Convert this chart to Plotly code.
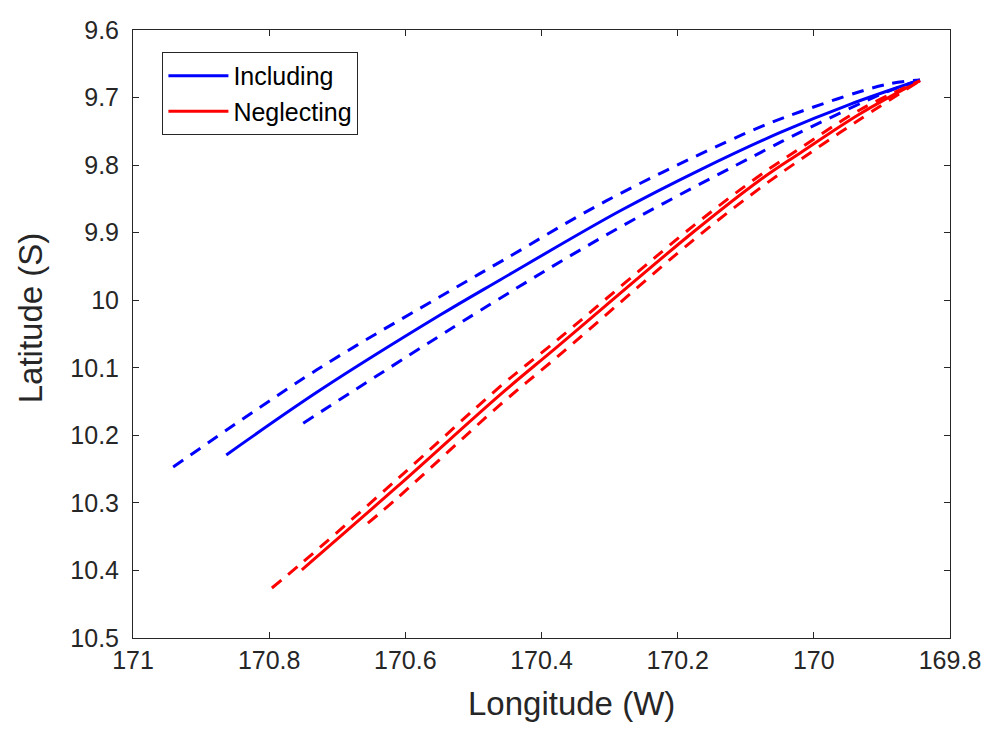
import plotly.graph_objects as go

# Including (blue)
inc_solid_lon = [170.863, 170.725, 170.549, 170.461, 170.285, 170.167, 170.050, 169.947, 169.844]
inc_solid_lat = [10.229, 10.133, 10.022, 9.970, 9.868, 9.807, 9.752, 9.710, 9.674]
inc_up_lon = [170.941, 170.730, 170.534, 170.455, 170.305, 170.105, 170.020, 169.895, 169.844]
inc_up_lat = [10.247, 10.103, 9.986, 9.940, 9.853, 9.755, 9.721, 9.681, 9.674]
inc_lo_lon = [170.750, 170.480, 170.292, 170.091, 170.013, 169.894, 169.844]
inc_lo_lat = [10.182, 10.009, 9.896, 9.788, 9.748, 9.692, 9.674]

# Neglecting (red)
neg_solid_lon = [170.752, 170.612, 170.461, 170.377, 170.177, 170.079, 170.020, 169.932, 169.844]
neg_solid_lat = [10.399, 10.276, 10.140, 10.069, 9.899, 9.822, 9.782, 9.724, 9.675]
neg_up_lon = [170.796, 170.752, 170.612, 170.461, 170.377, 170.177, 170.079, 170.020, 169.932, 169.844]
neg_up_lat = [10.426, 10.389, 10.265, 10.128, 10.059, 9.890, 9.815, 9.775, 9.718, 9.675]
neg_lo_lon = [170.655, 170.612, 170.461, 170.377, 170.177, 170.079, 170.020, 169.932, 169.844]
neg_lo_lat = [10.330, 10.293, 10.155, 10.084, 9.911, 9.834, 9.792, 9.732, 9.675]

x_ticks = [171, 170.8, 170.6, 170.4, 170.2, 170, 169.8]
x_tick_text = ["171", "170.8", "170.6", "170.4", "170.2", "170", "169.8"]
y_ticks = [9.6, 9.7, 9.8, 9.9, 10.0, 10.1, 10.2, 10.3, 10.4, 10.5]
y_tick_text = ["9.6", "9.7", "9.8", "9.9", "10", "10.1", "10.2", "10.3", "10.4", "10.5"]
x_title = "Longitude (W)"
y_title = "Latitude (S)"

BLUE = "#0000ff"
RED = "#ff0000"
DASH = "12px,9px"
FONT = "Liberation Sans, Arial, sans-serif"

fig = go.Figure()
fig.add_trace(go.Scatter(x=inc_solid_lon, y=inc_solid_lat, mode="lines", name="Including",
                         line=dict(color=BLUE, width=3, shape="spline")))
fig.add_trace(go.Scatter(x=neg_solid_lon, y=neg_solid_lat, mode="lines", name="Neglecting",
                         line=dict(color=RED, width=3, shape="spline")))
fig.add_trace(go.Scatter(x=inc_up_lon, y=inc_up_lat, mode="lines", showlegend=False,
                         line=dict(color=BLUE, width=3, dash=DASH, shape="spline")))
fig.add_trace(go.Scatter(x=inc_lo_lon, y=inc_lo_lat, mode="lines", showlegend=False,
                         line=dict(color=BLUE, width=3, dash=DASH, shape="spline")))
fig.add_trace(go.Scatter(x=neg_up_lon, y=neg_up_lat, mode="lines", showlegend=False,
                         line=dict(color=RED, width=3, dash=DASH, shape="spline")))
fig.add_trace(go.Scatter(x=neg_lo_lon, y=neg_lo_lat, mode="lines", showlegend=False,
                         line=dict(color=RED, width=3, dash=DASH, shape="spline")))

axis_common = dict(
    showgrid=False, zeroline=False, showline=True, linecolor="#262626", linewidth=1,
    mirror="ticks", ticks="inside", ticklen=6, tickcolor="#262626", tickwidth=1,
    tickfont=dict(family=FONT, size=25, color="#262626"),
)

fig.update_layout(
    width=1000, height=732,
    margin=dict(l=133, r=50, t=30, b=94),
    paper_bgcolor="white", plot_bgcolor="white",
    xaxis=dict(range=[171, 169.8], tickvals=x_ticks, ticktext=x_tick_text, **axis_common),
    yaxis=dict(range=[10.5, 9.6], tickvals=y_ticks, ticktext=y_tick_text,
               ticklabelstandoff=8, **axis_common),
    legend=dict(x=0.036, y=0.964, xanchor="left", yanchor="top",
                bgcolor="white", bordercolor="#262626", borderwidth=1,
                font=dict(family=FONT, size=25, color="#000000"),
                tracegroupgap=0, itemwidth=60),
    showlegend=True,
    annotations=[
        dict(text=x_title, xref="paper", yref="paper", x=0.537, y=-0.107,
             xanchor="center", yanchor="middle", showarrow=False,
             font=dict(family=FONT, size=33, color="#262626")),
        dict(text=y_title, xref="paper", yref="paper", x=-0.126, y=0.526,
             xanchor="center", yanchor="middle", showarrow=False, textangle=-90,
             font=dict(family=FONT, size=33, color="#262626")),
    ],
)

fig.write_html("out.html")
